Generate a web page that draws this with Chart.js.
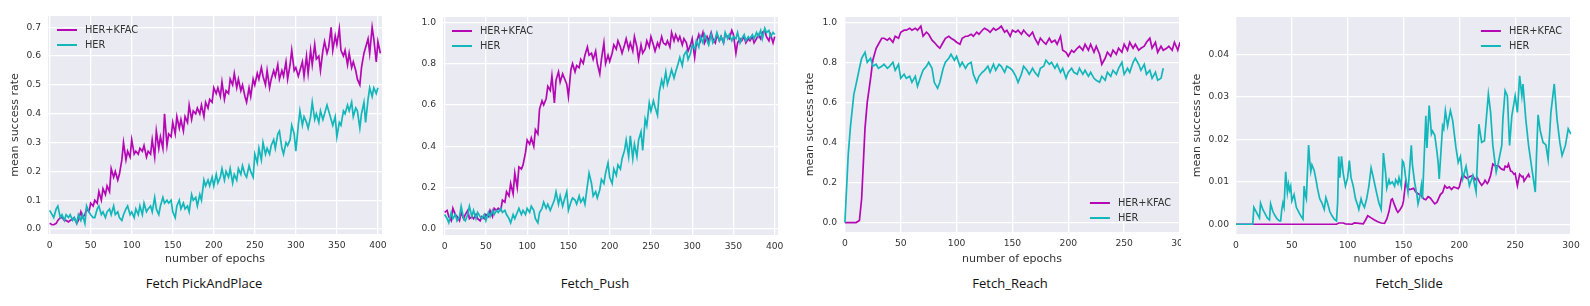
<!DOCTYPE html>
<html>
<head>
<meta charset="utf-8">
<script src="https://cdn.jsdelivr.net/npm/chart.js@4.4.1/dist/chart.umd.min.js"></script>
<style>
  html, body { margin: 0; padding: 0; background: #fff; }
  #page { position: relative; width: 1590px; height: 306px; overflow: hidden; }
  #page canvas { position: absolute; top: 0; }
  .caption {
    position: absolute; top: 275px; transform: translateX(-50%);
    font: 13px "Open Sans", sans-serif; line-height: 16px; color: #111; white-space: nowrap;
  }
</style>
</head>
<body>
<div id="page">
  <canvas id="pick" width="395" height="270" style="left:0px"></canvas>
  <canvas id="push" width="390" height="270" style="left:405px"></canvas>
  <canvas id="reach" width="386" height="270" style="left:795px"></canvas>
  <canvas id="slide" width="408" height="270" style="left:1182px"></canvas>
  <div class="caption" style="left:204px">Fetch PickAndPlace</div>
  <div class="caption" style="left:595px">Fetch_Push</div>
  <div class="caption" style="left:1010px">Fetch_Reach</div>
  <div class="caption" style="left:1409px">Fetch_Slide</div>
</div>
<script>
// epochs shared by Fetch PickAndPlace and Fetch_Push
const epochs = [
  0, 3, 5, 8, 10, 13, 15, 18, 20, 23, 25, 28, 30, 33, 35, 38, 40, 43, 45, 48,
  50, 53, 55, 58, 60, 63, 65, 68, 70, 73, 75, 78, 80, 83, 85, 88, 90, 93, 95, 98,
  100, 103, 105, 108, 110, 113, 115, 118, 120, 123, 125, 128, 130, 133, 135, 138, 140, 143, 145, 148,
  150, 153, 155, 158, 160, 163, 165, 168, 170, 173, 175, 178, 180, 183, 185, 188, 190, 193, 195, 198,
  200, 203, 205, 208, 210, 213, 215, 218, 220, 223, 225, 228, 230, 233, 235, 238, 240, 243, 245, 248,
  250, 253, 255, 258, 260, 263, 265, 268, 270, 273, 275, 278, 280, 283, 285, 288, 290, 293, 295, 298,
  300, 303, 305, 308, 310, 313, 315, 318, 320, 323, 325, 328, 330, 333, 335, 338, 340, 343, 345, 348,
  350, 353, 355, 358, 360, 363, 365, 368, 370, 373, 375, 378, 380, 383, 385, 388, 390, 393, 395, 398,
  400, 403
];

const pickKfac = [
  0.020, 0.015, 0.015, 0.020, 0.030, 0.040, 0.040, 0.030, 0.030, 0.025, 0.030, 0.035, 0.040, 0.020, 0.030, 0.060, 0.040, 0.050, 0.070, 0.060,
  0.090, 0.080, 0.100, 0.090, 0.130, 0.100, 0.140, 0.120, 0.150, 0.130, 0.210, 0.180, 0.200, 0.170, 0.190, 0.240, 0.300, 0.240, 0.270, 0.250,
  0.310, 0.260, 0.270, 0.260, 0.280, 0.270, 0.290, 0.250, 0.270, 0.260, 0.310, 0.250, 0.340, 0.280, 0.320, 0.280, 0.400, 0.290, 0.330, 0.320,
  0.370, 0.330, 0.390, 0.350, 0.380, 0.340, 0.390, 0.370, 0.430, 0.380, 0.410, 0.400, 0.420, 0.400, 0.430, 0.390, 0.440, 0.420, 0.450, 0.440,
  0.490, 0.470, 0.490, 0.460, 0.510, 0.450, 0.480, 0.470, 0.520, 0.500, 0.540, 0.490, 0.520, 0.480, 0.500, 0.460, 0.440, 0.490, 0.460, 0.520,
  0.500, 0.540, 0.520, 0.560, 0.530, 0.500, 0.550, 0.490, 0.520, 0.550, 0.530, 0.570, 0.520, 0.550, 0.530, 0.580, 0.520, 0.570, 0.620, 0.550,
  0.560, 0.530, 0.550, 0.580, 0.530, 0.600, 0.540, 0.620, 0.570, 0.640, 0.590, 0.600, 0.550, 0.620, 0.650, 0.610, 0.630, 0.700, 0.620, 0.670,
  0.640, 0.695, 0.620, 0.600, 0.620, 0.570, 0.610, 0.560, 0.580, 0.550, 0.520, 0.500, 0.560, 0.610, 0.630, 0.660, 0.610, 0.700, 0.660, 0.580,
  0.650, 0.610
];
const pickHer = [
  0.065, 0.050, 0.040, 0.070, 0.080, 0.040, 0.050, 0.030, 0.050, 0.040, 0.050, 0.030, 0.040, 0.020, 0.050, 0.030, 0.050, 0.020, 0.080, 0.060,
  0.050, 0.040, 0.040, 0.070, 0.080, 0.050, 0.060, 0.040, 0.060, 0.070, 0.050, 0.080, 0.050, 0.060, 0.040, 0.030, 0.050, 0.070, 0.080, 0.050,
  0.060, 0.040, 0.070, 0.050, 0.080, 0.050, 0.090, 0.060, 0.070, 0.080, 0.060, 0.110, 0.070, 0.050, 0.080, 0.110, 0.090, 0.100, 0.090, 0.100,
  0.060, 0.040, 0.080, 0.100, 0.070, 0.090, 0.070, 0.080, 0.060, 0.120, 0.100, 0.110, 0.080, 0.120, 0.100, 0.170, 0.150, 0.170, 0.150, 0.180,
  0.150, 0.190, 0.160, 0.180, 0.210, 0.170, 0.200, 0.180, 0.210, 0.160, 0.190, 0.170, 0.210, 0.190, 0.220, 0.190, 0.180, 0.220, 0.200, 0.180,
  0.260, 0.230, 0.280, 0.240, 0.300, 0.260, 0.280, 0.260, 0.290, 0.310, 0.280, 0.330, 0.340, 0.280, 0.260, 0.300, 0.290, 0.310, 0.360, 0.330,
  0.270, 0.360, 0.410, 0.360, 0.390, 0.370, 0.350, 0.390, 0.440, 0.380, 0.400, 0.370, 0.410, 0.380, 0.400, 0.430, 0.410, 0.380, 0.360, 0.390,
  0.320, 0.370, 0.360, 0.410, 0.400, 0.430, 0.410, 0.440, 0.390, 0.420, 0.410, 0.350, 0.400, 0.440, 0.370, 0.450, 0.490, 0.460, 0.490, 0.470,
  0.490
];

const pushKfac = [
  0.08, 0.09, 0.06, 0.04, 0.10, 0.07, 0.06, 0.04, 0.08, 0.05, 0.07, 0.09, 0.05, 0.06, 0.05, 0.07, 0.05, 0.04, 0.06, 0.05,
  0.07, 0.06, 0.09, 0.06, 0.10, 0.09, 0.10, 0.09, 0.14, 0.13, 0.18, 0.16, 0.22, 0.17, 0.27, 0.20, 0.30, 0.29, 0.31, 0.37,
  0.43, 0.41, 0.44, 0.40, 0.48, 0.46, 0.58, 0.62, 0.60, 0.63, 0.69, 0.67, 0.74, 0.61, 0.72, 0.76, 0.71, 0.75, 0.73, 0.70,
  0.64, 0.77, 0.80, 0.76, 0.79, 0.78, 0.82, 0.80, 0.84, 0.88, 0.84, 0.85, 0.82, 0.86, 0.80, 0.75, 0.82, 0.90, 0.80, 0.84,
  0.81, 0.85, 0.89, 0.87, 0.91, 0.88, 0.85, 0.89, 0.92, 0.87, 0.90, 0.86, 0.93, 0.88, 0.82, 0.89, 0.85, 0.87, 0.91, 0.88,
  0.93, 0.89, 0.86, 0.90, 0.88, 0.93, 0.90, 0.89, 0.91, 0.88, 0.95, 0.91, 0.94, 0.91, 0.93, 0.89, 0.92, 0.90, 0.86, 0.89,
  0.92, 0.83, 0.90, 0.94, 0.91, 0.95, 0.90, 0.93, 0.91, 0.95, 0.92, 0.90, 0.94, 0.91, 0.93, 0.90, 0.94, 0.93, 0.92, 0.96,
  0.94, 0.85, 0.90, 0.92, 0.91, 0.93, 0.90, 0.92, 0.91, 0.93, 0.90, 0.92, 0.94, 0.92, 0.95, 0.96, 0.93, 0.91, 0.94, 0.90,
  0.93
];
const pushHer = [
  0.07, 0.05, 0.03, 0.08, 0.05, 0.07, 0.04, 0.06, 0.11, 0.05, 0.04, 0.07, 0.11, 0.06, 0.09, 0.05, 0.08, 0.06, 0.05, 0.07,
  0.04, 0.08, 0.06, 0.09, 0.07, 0.09, 0.08, 0.10, 0.08, 0.09, 0.07, 0.05, 0.03, 0.07, 0.05, 0.08, 0.10, 0.07, 0.09, 0.07,
  0.10, 0.08, 0.11, 0.09, 0.05, 0.03, 0.08, 0.10, 0.13, 0.10, 0.12, 0.09, 0.11, 0.14, 0.18, 0.12, 0.16, 0.11, 0.14, 0.18,
  0.09, 0.13, 0.15, 0.14, 0.12, 0.16, 0.13, 0.15, 0.12, 0.21, 0.27, 0.22, 0.16, 0.18, 0.15, 0.19, 0.24, 0.22, 0.27, 0.32,
  0.25, 0.22, 0.29, 0.26, 0.31, 0.29, 0.34, 0.38, 0.43, 0.35, 0.45, 0.34, 0.41, 0.35, 0.43, 0.47, 0.38, 0.53, 0.50, 0.61,
  0.57, 0.62, 0.59, 0.55, 0.66, 0.72, 0.69, 0.76, 0.70, 0.74, 0.77, 0.73, 0.76, 0.80, 0.83, 0.79, 0.84, 0.86, 0.82, 0.85,
  0.89, 0.87, 0.91, 0.88, 0.93, 0.90, 0.94, 0.91, 0.89, 0.94, 0.90, 0.92, 0.95, 0.91, 0.93, 0.90, 0.95, 0.92, 0.94, 0.91,
  0.93, 0.92, 0.95, 0.90, 0.92, 0.94, 0.91, 0.93, 0.92, 0.94, 0.92, 0.95, 0.93, 0.96, 0.92, 0.97, 0.95, 0.96, 0.93, 0.95,
  0.94
];

const reachEpochs = [
  0, 3, 5, 8, 10, 13, 15, 18, 20, 23, 25, 28, 30, 33, 35, 38, 40, 43, 45, 48,
  50, 53, 55, 58, 60, 63, 65, 68, 70, 73, 75, 78, 80, 83, 85, 88, 90, 93, 95, 98,
  100, 103, 105, 108, 110, 113, 115, 118, 120, 123, 125, 128, 130, 133, 135, 138, 140, 143, 145, 148,
  150, 153, 155, 158, 160, 163, 165, 168, 170, 173, 175, 178, 180, 183, 185, 188, 190, 193, 195, 198,
  200, 203, 205, 208, 210, 213, 215, 218, 220, 223, 225, 228, 230, 233, 235, 238, 240, 243, 245, 248,
  250, 253, 255, 258, 260, 263, 265, 268, 270, 273, 275, 278, 280, 283, 285, 288, 290, 293, 295, 298,
  300
];
const reachKfac = [
  0, 0, 0, 0, 0, 0.01, 0.12, 0.47, 0.60, 0.72, 0.81, 0.87, 0.89, 0.92, 0.92, 0.91, 0.92, 0.90, 0.93, 0.92,
  0.95, 0.96, 0.96, 0.97, 0.96, 0.97, 0.96, 0.98, 0.93, 0.95, 0.94, 0.91, 0.90, 0.88, 0.87, 0.90, 0.92, 0.93, 0.92, 0.91,
  0.90, 0.89, 0.92, 0.93, 0.93, 0.94, 0.93, 0.95, 0.94, 0.96, 0.97, 0.96, 0.95, 0.97, 0.96, 0.97, 0.98, 0.95, 0.96, 0.93,
  0.96, 0.95, 0.96, 0.94, 0.96, 0.94, 0.93, 0.95, 0.92, 0.89, 0.92, 0.90, 0.89, 0.92, 0.90, 0.91, 0.89, 0.93, 0.86, 0.85,
  0.83, 0.86, 0.85, 0.87, 0.88, 0.86, 0.89, 0.86, 0.89, 0.85, 0.88, 0.84, 0.79, 0.82, 0.85, 0.83, 0.86, 0.84, 0.87, 0.85,
  0.89, 0.86, 0.90, 0.87, 0.89, 0.86, 0.87, 0.88, 0.90, 0.92, 0.87, 0.90, 0.85, 0.88, 0.86, 0.87, 0.88, 0.86, 0.90, 0.86,
  0.90
];
const reachHer = [
  0, 0.34, 0.48, 0.64, 0.69, 0.77, 0.82, 0.85, 0.80, 0.82, 0.78, 0.79, 0.77, 0.78, 0.79, 0.77, 0.78, 0.80, 0.76, 0.79,
  0.72, 0.74, 0.72, 0.73, 0.70, 0.73, 0.68, 0.73, 0.76, 0.78, 0.80, 0.77, 0.70, 0.67, 0.70, 0.77, 0.80, 0.82, 0.84, 0.81,
  0.83, 0.78, 0.80, 0.77, 0.79, 0.80, 0.74, 0.70, 0.73, 0.75, 0.76, 0.78, 0.75, 0.79, 0.76, 0.79, 0.78, 0.75, 0.78, 0.77,
  0.76, 0.73, 0.70, 0.74, 0.78, 0.76, 0.74, 0.77, 0.75, 0.73, 0.77, 0.78, 0.81, 0.79, 0.80, 0.77, 0.79, 0.75, 0.77, 0.72,
  0.75, 0.77, 0.75, 0.74, 0.77, 0.74, 0.76, 0.73, 0.75, 0.72, 0.71, 0.70, 0.73, 0.71, 0.75, 0.73, 0.76, 0.74, 0.77, 0.80,
  0.74, 0.77, 0.75, 0.80, 0.82, 0.79, 0.76, 0.79, 0.74, 0.76, 0.72, 0.75, 0.71, 0.72, 0.77
];

const slideKfacEpochs = [
  0, 90, 92, 96, 98, 104, 106, 110, 114, 116, 118, 121, 124, 127, 130, 133, 135, 137, 139, 140,
  142, 144, 145, 147, 149, 150, 152, 153, 155, 157, 159, 161, 163, 166, 168, 170, 172, 174, 176, 178,
  180, 181, 183, 185, 187, 189, 191, 193, 195, 197, 199, 200, 202, 203, 205, 207, 209, 212, 214, 216,
  218, 220, 222, 223, 225, 226, 228, 230, 232, 235, 237, 238, 240, 241, 243, 244, 246, 247, 249, 250,
  252, 254, 256, 257, 258, 260, 262, 263
];
const slideKfac = [
  0, 0, 0.0003, 0.0003, 0.0001, 0, 0.0003, 0.0002, 0.0001, 0.001, 0.002, 0.0015, 0.001, 0.0006, 0.0003, 0.0002, 0.0012, 0.003, 0.0058, 0.006,
  0.0045, 0.0032, 0.0028, 0.0035, 0.0044, 0.0055, 0.0103, 0.009, 0.0082, 0.0083, 0.0085, 0.0076, 0.0072, 0.0068, 0.006, 0.0058, 0.0065, 0.0062, 0.0055, 0.0048,
  0.0052, 0.0058, 0.007, 0.0075, 0.0091, 0.0085, 0.0088, 0.0082, 0.0088, 0.0086, 0.0084, 0.0088, 0.011, 0.0118, 0.0112, 0.0108, 0.0112, 0.0115, 0.0105, 0.011,
  0.01, 0.0092, 0.0098, 0.0104, 0.0096, 0.01, 0.0115, 0.0142, 0.0138, 0.0138, 0.0132, 0.013, 0.0128, 0.0137, 0.0135, 0.0142, 0.0125, 0.0125, 0.0118, 0.012,
  0.0091, 0.0118, 0.0112, 0.0113, 0.0102, 0.011, 0.0118, 0.011
];
const slideHerEpochs = [
  0, 15, 16, 18, 20, 21, 22, 24, 26, 28, 30, 31, 33, 35, 37, 39, 40, 41, 42, 43,
  44.5, 46, 47, 48, 49, 50, 52, 54, 56, 58, 60, 61, 62, 63, 65, 66, 67, 68, 70, 72,
  73, 75, 77, 79, 80.5, 82, 84, 86, 88, 90, 91, 92, 93, 94.5, 96, 98, 100, 101.5, 103, 105,
  107, 109, 110, 112, 113, 115, 117, 119, 121, 123, 125, 126, 128, 130, 131, 132, 134, 135, 137, 138,
  140, 142, 143, 145, 146, 148, 149, 150, 151, 152, 154, 157, 158, 160, 162, 163, 165, 166, 167, 170,
  171, 173, 175, 176, 178, 180, 181, 182, 185, 186, 187.5, 189.5, 192, 194, 197, 199, 201, 203, 206, 209,
  212, 215, 217.5, 220, 222.5, 226, 228, 230, 233, 235, 238, 239, 241, 243, 245, 247, 250, 252, 254, 256,
  257, 259.5, 262, 265, 268, 269, 270.5, 272.5, 275, 277.5, 279.5, 282, 285, 287.5, 290, 292, 295, 297.5, 300
];
const slideHer = [
  0, 0, 0.004, 0.003, 0.002, 0.0015, 0.005, 0.0035, 0.0025, 0.0015, 0.001, 0.0048, 0.003, 0.002, 0.0012, 0.0008, 0.0008, 0.0035, 0.005, 0.004,
  0.0124, 0.0075, 0.0095, 0.008, 0.009, 0.0055, 0.007, 0.004, 0.003, 0.002, 0.0012, 0.009, 0.007, 0.006, 0.0187, 0.015, 0.0125, 0.014, 0.0127, 0.01,
  0.0084, 0.006, 0.005, 0.0035, 0.0063, 0.005, 0.003, 0.002, 0.0012, 0.0008, 0.005, 0.016, 0.011, 0.016, 0.012, 0.009, 0.011, 0.015, 0.011, 0.009,
  0.006, 0.0045, 0.0035, 0.006, 0.005, 0.004, 0.006, 0.009, 0.0133, 0.011, 0.0085, 0.0073, 0.005, 0.0035, 0.009, 0.0168, 0.012, 0.0085, 0.0105, 0.0095,
  0.01, 0.009, 0.0105, 0.0095, 0.011, 0.009, 0.015, 0.0146, 0.013, 0.0108, 0.0076, 0.0186, 0.014, 0.0098, 0.007, 0.0048, 0.007, 0.0091, 0.006, 0.0256,
  0.018, 0.028, 0.0213, 0.022, 0.021, 0.017, 0.0146, 0.0107, 0.0232, 0.0225, 0.0268, 0.0232, 0.0268, 0.0245, 0.018, 0.0146, 0.016, 0.0107, 0.0137, 0.0091,
  0.0115, 0.0076, 0.0236, 0.0193, 0.0197, 0.0307, 0.0264, 0.0186, 0.0123, 0.0146, 0.0186, 0.0248, 0.0315, 0.0303, 0.0186, 0.0256, 0.0303, 0.0264, 0.035, 0.0303,
  0.0331, 0.0248, 0.0186, 0.013, 0.0076, 0.0154, 0.0258, 0.022, 0.0193, 0.0187, 0.0153, 0.0264, 0.0331, 0.0248, 0.0193, 0.0162, 0.0186, 0.0225, 0.0213
];

// tick values
const xTicks400 = [0, 50, 100, 150, 200, 250, 300, 350, 400];
const xTicks300 = [0, 50, 100, 150, 200, 250, 300];
const pickYTicks = [0, 0.1, 0.2, 0.3, 0.4, 0.5, 0.6, 0.7];
const unitYTicks = [0, 0.2, 0.4, 0.6, 0.8, 1.0];
const slideYTicks = [0, 0.01, 0.02, 0.03, 0.04];

const KFAC_COLOR = "#B408B4";
const HER_COLOR = "#12B7BA";
const FONT = "'DejaVu Sans', sans-serif";
const TEXT = "#333";

const pts = (xs, ys) => ys.map((y, i) => ({ x: xs[i], y }));

const plotBackground = {
  id: "plotBackground",
  beforeDraw(chart) {
    const { ctx, chartArea: a } = chart;
    ctx.save();
    ctx.fillStyle = "#EAEAF2";
    ctx.fillRect(a.left, a.top, a.right - a.left, a.bottom - a.top);
    ctx.restore();
  }
};

// matplotlib-style legend drawn inside a corner of the plot area
const cornerLegend = {
  id: "cornerLegend",
  afterDatasetsDraw(chart, args, opts) {
    const { ctx, chartArea: a } = chart;
    const sets = chart.data.datasets;
    ctx.save();
    ctx.font = "9.8px " + FONT;
    const textW = Math.max(...sets.map(d => ctx.measureText(d.label).width));
    const w = 28 + textW;
    const left = opts.corner.includes("l") ? a.left + 9 : a.right - 9 - w;
    const top = opts.corner.includes("t") ? a.top + 14 : a.bottom - 14 - 15 * (sets.length - 1);
    sets.forEach((d, i) => {
      const y = top + 15 * i;
      ctx.strokeStyle = d.borderColor;
      ctx.lineWidth = 2;
      ctx.beginPath();
      ctx.moveTo(left, y);
      ctx.lineTo(left + 20, y);
      ctx.stroke();
      ctx.fillStyle = TEXT;
      ctx.textBaseline = "middle";
      ctx.textAlign = "left";
      ctx.fillText(d.label, left + 28, y);
    });
    ctx.restore();
  }
};

function makePanel(id, p) {
  const ctx = document.getElementById(id).getContext("2d");
  return new Chart(ctx, {
    type: "line",
    data: {
      datasets: [
        { label: "HER+KFAC", data: pts(p.kfac[0], p.kfac[1]), borderColor: KFAC_COLOR, order: 1 },
        { label: "HER", data: pts(p.her[0], p.her[1]), borderColor: HER_COLOR, order: 0 }
      ]
    },
    options: {
      responsive: false,
      animation: false,
      devicePixelRatio: 1,
      layout: { autoPadding: false, padding: { left: 0, right: p.padRight, top: p.padTop, bottom: 0 } },
      elements: { line: { borderWidth: 1.7, tension: 0 }, point: { radius: 0 } },
      plugins: {
        legend: { display: false },
        tooltip: { enabled: false },
        cornerLegend: { corner: p.corner }
      },
      scales: {
        x: {
          type: "linear",
          min: p.xRange[0],
          max: p.xRange[1],
          afterBuildTicks: s => { s.ticks = p.xTicks.map(v => ({ value: v })); },
          afterFit: s => { s.height = p.xHeight; s.paddingLeft = 0; s.paddingRight = 0; },
          ticks: { callback: v => String(v), font: { family: FONT, size: 9.2 }, color: TEXT, padding: 6.3, maxRotation: 0, autoSkip: false },
          grid: { color: "#fff", lineWidth: 1.3, drawTicks: false },
          border: { display: false },
          title: { display: p.titles, text: "number of epochs", font: { family: FONT, size: 11 }, color: TEXT, padding: { top: 0, bottom: 4.4 } }
        },
        y: {
          min: p.yRange[0],
          max: p.yRange[1],
          afterBuildTicks: s => { s.ticks = p.yTicks.map(v => ({ value: v })); },
          afterFit: s => { s.width = p.yWidth; s.paddingTop = 0; s.paddingBottom = 0; },
          ticks: { callback: v => v.toFixed(p.decimals), font: { family: FONT, size: 9.2 }, color: TEXT, padding: 7 },
          grid: { color: "#fff", lineWidth: 1.3, drawTicks: false },
          border: { display: false },
          title: { display: p.titles, text: "mean success rate", font: { family: FONT, size: 11 }, color: TEXT, padding: { top: 8.4, bottom: 0 } }
        }
      }
    },
    plugins: [plotBackground, cornerLegend]
  });
}

makePanel("pick", {
  kfac: [epochs, pickKfac], her: [epochs, pickHer],
  xRange: [-2, 405], yRange: [-0.017, 0.739], xTicks: xTicks400, yTicks: pickYTicks, decimals: 1,
  yWidth: 48, xHeight: 36, padRight: 13, padTop: 16, titles: true, corner: "tl"
});
makePanel("push", {
  kfac: [epochs, pushKfac], her: [epochs, pushHer],
  xRange: [-2, 404], yRange: [-0.029, 1.025], xTicks: xTicks400, yTicks: unitYTicks, decimals: 1,
  yWidth: 38, xHeight: 35, padRight: 17, padTop: 17, titles: false, corner: "tl"
});
makePanel("reach", {
  kfac: [reachEpochs, reachKfac], her: [reachEpochs, reachHer],
  xRange: [-0.8, 300], yRange: [-0.047, 1.026], xTicks: xTicks300, yTicks: unitYTicks, decimals: 1,
  yWidth: 49, xHeight: 38, padRight: 1, padTop: 17, titles: true, corner: "br"
});
makePanel("slide", {
  kfac: [slideKfacEpochs, slideKfac], her: [slideHerEpochs, slideHer],
  xRange: [0, 300], yRange: [-0.0023, 0.0489], xTicks: xTicks300, yTicks: slideYTicks, decimals: 2,
  yWidth: 54, xHeight: 36, padRight: 19, padTop: 17, titles: true, corner: "tr"
});
</script>
</body>
</html>
